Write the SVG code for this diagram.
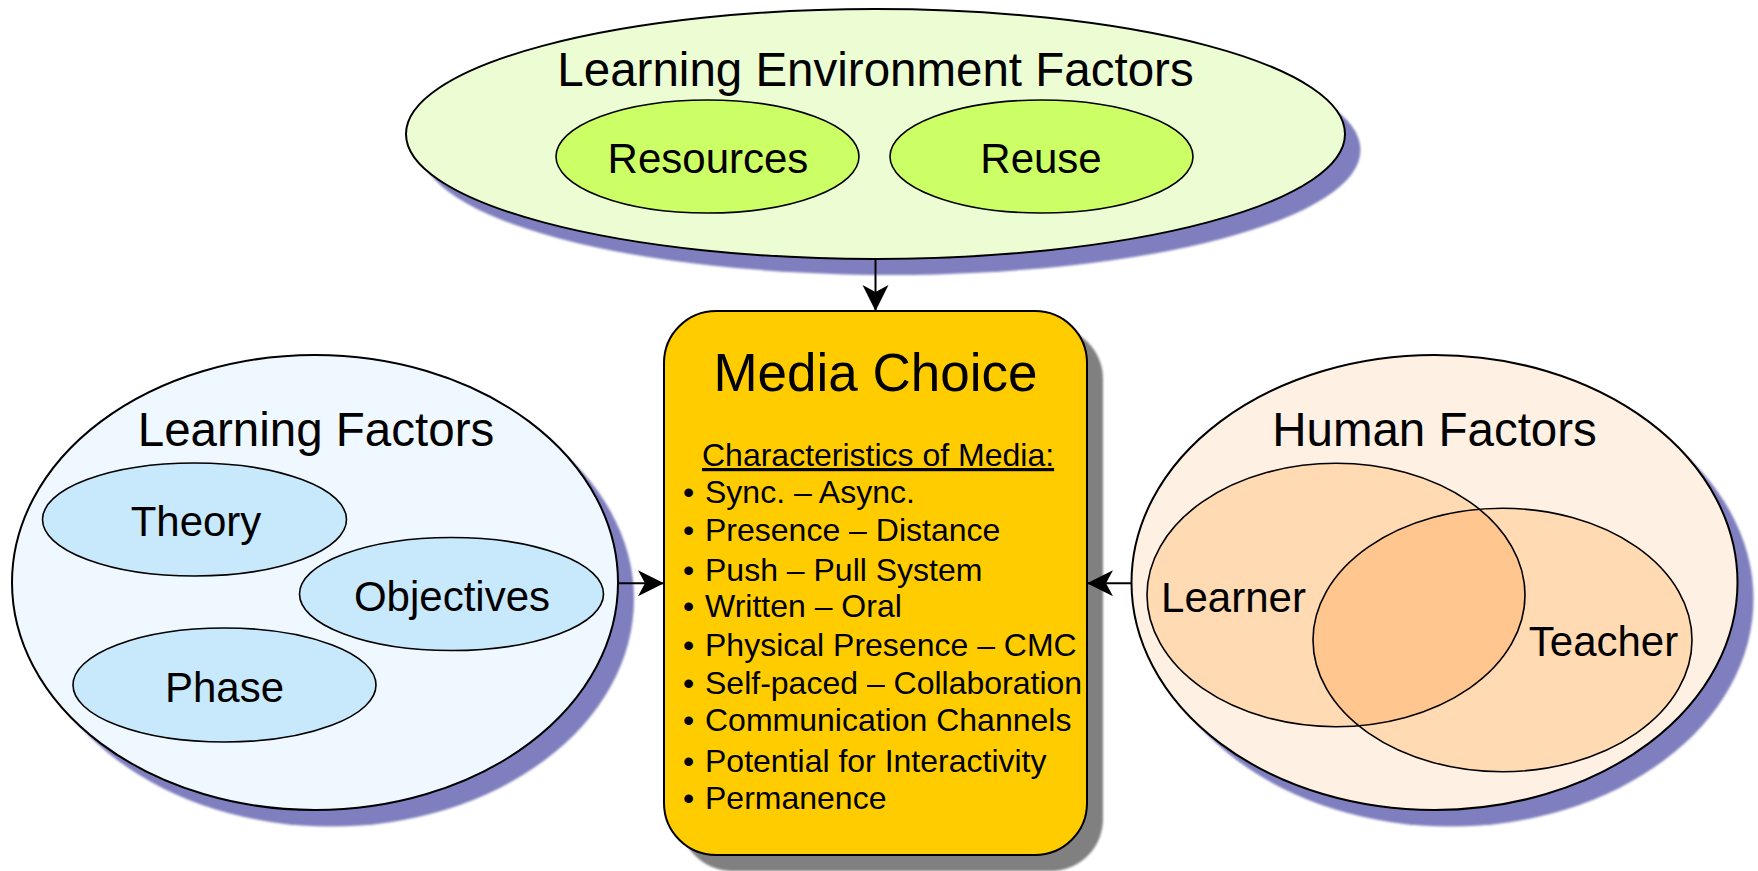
<svg xmlns="http://www.w3.org/2000/svg" width="1758" height="871" viewBox="0 0 1758 871">
<style>
text{font-family:"Liberation Sans",Arial,sans-serif;fill:#000}
.title{font-size:47.5px;text-anchor:middle}
.sub{font-size:42px;text-anchor:middle}
.big{font-size:53px;text-anchor:middle}
.list{font-size:32px}
.outer{stroke:#000;stroke-width:2}
.inner{stroke:#000;stroke-width:1.6}
.eshadow{fill:#7F7FBF;filter:url(#blur)}
.bshadow{fill:#808080;filter:url(#blur)}
.conn{stroke:#000;stroke-width:2;fill:none;marker-end:url(#arr)}
</style>
<defs>
<filter id="blur" x="-5%" y="-5%" width="110%" height="110%"><feGaussianBlur stdDeviation="1.2"/></filter>
<marker id="arr" viewBox="0 0 30 30" markerWidth="30" markerHeight="30" refX="28" refY="15" orient="auto" markerUnits="userSpaceOnUse">
<path d="M28,15 L2,2 L9,15 L2,28 Z" fill="#000"/>
</marker>
<clipPath id="teacherClip"><ellipse cx="1502.5" cy="640" rx="189.5" ry="131.7"/></clipPath>
</defs>
<rect width="1758" height="871" fill="#fff"/>

<g id="learning-environment-factors">
<ellipse class="eshadow" cx="891" cy="150" rx="469.5" ry="125"/>
<ellipse class="outer" cx="875.5" cy="134" rx="469.5" ry="125" fill="#ECFDD3"/>
<text class="title" x="875.5" y="86">Learning Environment Factors</text>
</g>
<g id="resources">
<ellipse class="inner" cx="707.5" cy="156.5" rx="151.5" ry="56.5" fill="#CCFF66"/>
<text class="sub" x="708" y="173">Resources</text>
</g>
<g id="reuse">
<ellipse class="inner" cx="1041.5" cy="156.5" rx="151.5" ry="56.5" fill="#CCFF66"/>
<text class="sub" x="1041" y="173">Reuse</text>
</g>

<g id="learning-factors">
<ellipse class="eshadow" cx="331" cy="599" rx="303" ry="227.5"/>
<ellipse class="outer" cx="315" cy="582.5" rx="303" ry="227.5" fill="#F0F8FF"/>
<text class="title" x="316" y="446">Learning Factors</text>
</g>
<g id="theory">
<ellipse class="inner" cx="194.5" cy="519.5" rx="152" ry="56.5" fill="#C8E8FC"/>
<text class="sub" x="196" y="536">Theory</text>
</g>
<g id="objectives">
<ellipse class="inner" cx="451.5" cy="594" rx="152" ry="56.5" fill="#C8E8FC"/>
<text class="sub" x="452" y="611">Objectives</text>
</g>
<g id="phase">
<ellipse class="inner" cx="224.5" cy="685" rx="151.5" ry="57" fill="#C8E8FC"/>
<text class="sub" x="224.5" y="702">Phase</text>
</g>

<g id="human-factors">
<ellipse class="eshadow" cx="1450.5" cy="599" rx="303" ry="227.5"/>
<ellipse class="outer" cx="1434.5" cy="582.5" rx="303" ry="227.5" fill="#FEF0E2"/>
<text class="title" x="1434.5" y="446">Human Factors</text>
</g>
<g id="learner">
<ellipse cx="1336" cy="595" rx="189" ry="131.7" fill="#FFDAB3"/>
</g>
<g id="teacher">
<ellipse cx="1502.5" cy="640" rx="189.5" ry="131.7" fill="#FFDAB3"/>
<ellipse cx="1336" cy="595" rx="189" ry="131.7" fill="#FFC78F" clip-path="url(#teacherClip)"/>
<ellipse class="inner" cx="1502.5" cy="640" rx="189.5" ry="131.7" fill="none"/>
<text x="1603.5" y="656" class="sub">Teacher</text>
</g>
<g id="learner-outline">
<ellipse class="inner" cx="1336" cy="595" rx="189" ry="131.7" fill="none"/>
<text x="1233.5" y="612" class="sub">Learner</text>
</g>

<g id="media-choice">
<rect class="bshadow" x="680" y="327" width="423" height="544" rx="52" ry="52"/>
<rect class="outer" x="664" y="311" width="423" height="544" rx="52" ry="52" fill="#FFCC00"/>
<text class="big" x="875.5" y="391">Media Choice</text>
<text class="list" x="702" y="466" text-decoration="underline">Characteristics of Media:</text>
<text class="list"><tspan x="683" y="503">•</tspan><tspan x="705">Sync. – Async.</tspan></text>
<text class="list"><tspan x="683" y="541">•</tspan><tspan x="705">Presence – Distance</tspan></text>
<text class="list"><tspan x="683" y="581">•</tspan><tspan x="705">Push – Pull System</tspan></text>
<text class="list"><tspan x="683" y="617">•</tspan><tspan x="705">Written – Oral</tspan></text>
<text class="list"><tspan x="683" y="656">•</tspan><tspan x="705">Physical Presence – CMC</tspan></text>
<text class="list"><tspan x="683" y="694">•</tspan><tspan x="705">Self-paced – Collaboration</tspan></text>
<text class="list"><tspan x="683" y="731">•</tspan><tspan x="705">Communication Channels</tspan></text>
<text class="list"><tspan x="683" y="772">•</tspan><tspan x="705">Potential for Interactivity</tspan></text>
<text class="list"><tspan x="683" y="809">•</tspan><tspan x="705">Permanence</tspan></text>
</g>

<g id="connectors">
<path class="conn" d="M875.5,259 L875.5,311"/>
<path class="conn" d="M617,583.3 L664,583.3"/>
<path class="conn" d="M1131.5,583.3 L1087,583.3"/>
</g>
</svg>
